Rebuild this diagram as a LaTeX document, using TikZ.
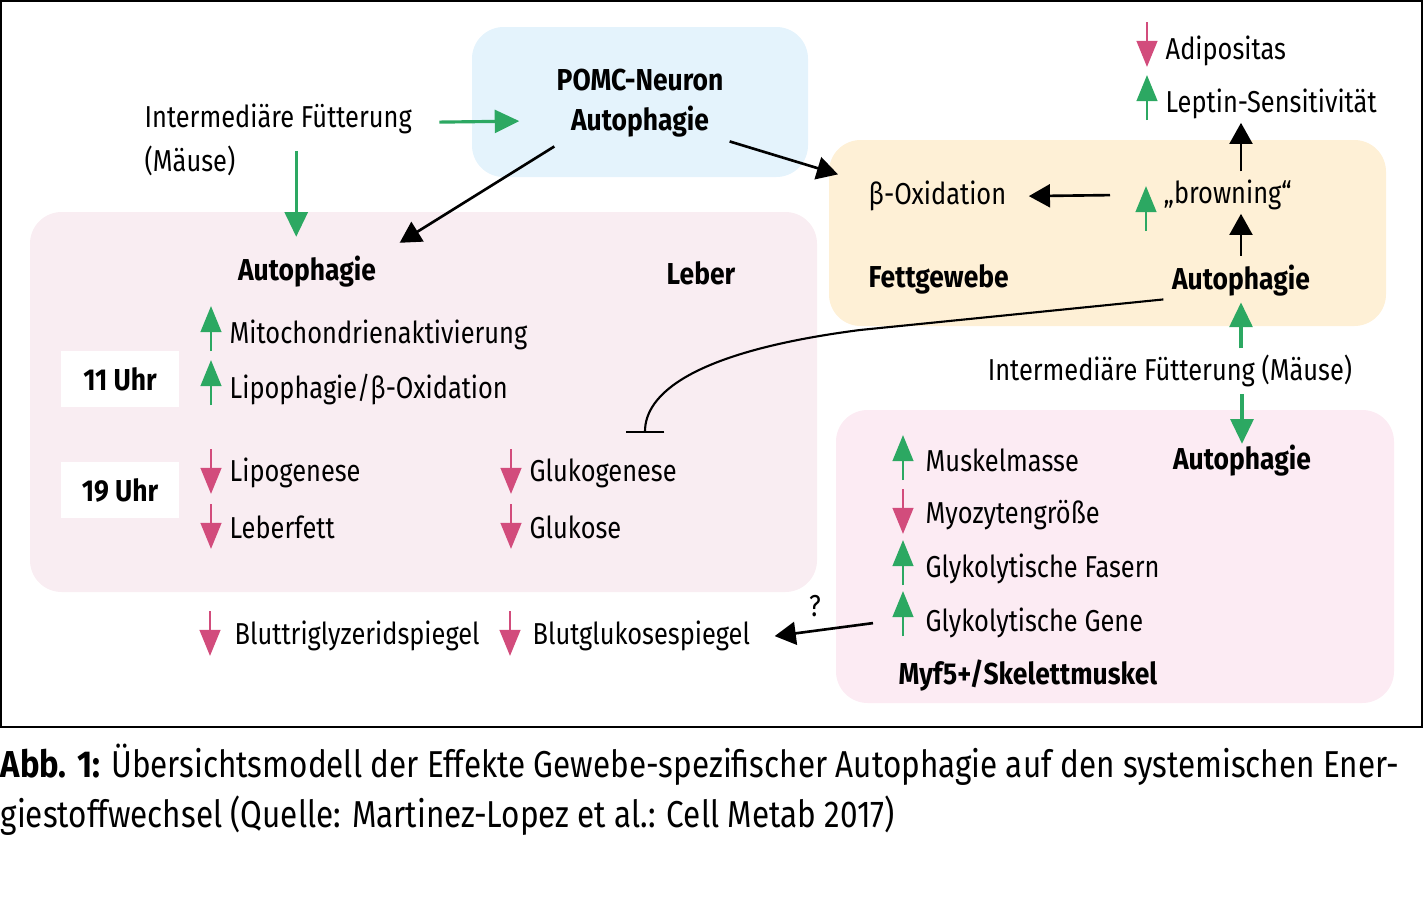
\documentclass[tikz,border=0pt]{standalone}
\usepackage{fontspec}
\setmainfont{Fira Sans}[FakeStretch=0.84, BoldFeatures={FakeStretch=0.875}]
\usetikzlibrary{arrows.meta}

\definecolor{upgreen}{RGB}{44,168,98}
\definecolor{downpink}{RGB}{210,76,124}
\definecolor{pomcblue}{RGB}{228,243,252}
\definecolor{fatyellow}{RGB}{254,240,214}
\definecolor{liverpink}{RGB}{249,237,242}
\definecolor{musclepink}{RGB}{252,235,243}

\newcommand{\lblsize}{\fontsize{8.6}{10}\selectfont}

\tikzset{
  lbl/.style={anchor=west, inner sep=0pt, yshift=-0.6pt, font=\lblsize},
  boldlbl/.style={inner sep=0pt, yshift=-0.6pt, font=\lblsize\bfseries},
  organ/.style={rounded corners=9pt},
  link/.style={-{Triangle[length=6pt,width=6.5pt]}, line width=0.75pt},
  feed/.style={-{Triangle[length=7pt,width=6.5pt]}, upgreen, line width=0.9pt},
  upmark/.style={-{Triangle[length=7.4pt,width=5.8pt]}, upgreen, line width=0.85pt},
  downmark/.style={-{Triangle[length=7.4pt,width=5.8pt]}, downpink, line width=0.85pt},
  timebox/.style={fill=white, inner sep=0pt, minimum width=1.18cm, minimum height=0.56cm, font=\lblsize\bfseries}
}

\begin{document}
\begin{tikzpicture}[x=0.01cm, y=-0.01cm]

 \useasboundingbox (0,0) rectangle (1423,915);
 \draw[line width=0.5pt] (1,1) rectangle (1422,727);

 % organ boxes
 \fill[pomcblue, organ] (472,27) rectangle (808,177);
 \fill[liverpink, organ] (30,212) rectangle (817,592);
 \fill[fatyellow, organ] (829,140) rectangle (1386,326);
 \fill[musclepink, organ] (836,410) rectangle (1394,703);

 % POMC
 \node[boldlbl] (pomc) at (640,78) {POMC-Neuron};
 \node[boldlbl] (pomcauto) at (640,119) {Autophagie};
 \node[lbl] (fuett) at (144,117) {Intermediäre Fütterung};
 \node[lbl] (fuettb) at (144,159) {(Mäuse)};

 % Leber
 \node[boldlbl] (leberauto) at (307,269) {Autophagie};
 \node[boldlbl] (leber) at (701,271) {Leber};
 \node[timebox] (uhr11) at (120,379) {11 Uhr};
 \node[timebox] (uhr19) at (120,490) {19 Uhr};
 \node[lbl] (mito) at (229,333) {Mitochondrienaktivierung};
 \node[lbl] (lipo) at (229,387) {Lipophagie/β-Oxidation};
 \node[lbl] (lipog) at (229,471) {Lipogenese};
 \node[lbl] (leberfett) at (229,525) {Leberfett};
 \node[lbl] (glukog) at (529,471) {Glukogenese};
 \node[lbl] (glukose) at (529,525) {Glukose};
 \node[lbl] (tg) at (234,634) {Bluttriglyzeridspiegel};
 \node[lbl] (bz) at (532,634) {Blutglukosespiegel};

 % Fettgewebe
 \node[lbl] (betaox) at (868,194) {β-Oxidation};
 \node[lbl] (browning) at (1163,193) {„browning“};
 \node[lbl, font=\lblsize\bfseries] (fett) at (868,277) {Fettgewebe};
 \node[boldlbl] (fettauto) at (1241,278) {Autophagie};
 \node[lbl] (adipo) at (1165,49) {Adipositas};
 \node[lbl] (leptin) at (1165,102) {Leptin-Sensitivität};
 \node[inner sep=0pt, yshift=-0.6pt, font=\lblsize] (fuett2) at (1170,369) {Intermediäre Fütterung (Mäuse)};

 % Skelettmuskel
 \node[boldlbl] (muskauto) at (1242,458) {Autophagie};
 \node[lbl] (muskmasse) at (925,458) {Muskelmasse};
 \node[lbl] (myozyt) at (925,513) {Myozytengröße};
 \node[lbl] (glykfas) at (925,567) {Glykolytische Fasern};
 \node[lbl] (glykgen) at (925,621) {Glykolytische Gene};
 \node[boldlbl] (myf5) at (1028,673) {Myf5+/Skelettmuskel};
 \node[inner sep=0pt, font=\lblsize] (qmark) at (815,606) {?};

 % up / down markers
 \foreach \x/\y in {211/351, 211/405, 1146/231, 1147/120, 903/480, 903/585, 903/636}
   \draw[upmark] (\x,\y) -- ++(0,-45);
 \foreach \x/\y in {211/449, 211/504, 511/449, 511/504, 210/611, 510/611, 1147/22, 903/489}
   \draw[downmark] (\x,\y) -- ++(0,45);

 % connectors
 \draw[feed] ([shift={(27,3)}]fuett.east) -- ([shift={(-51,0)}]pomcauto.west);
 \draw[feed] (fuett.south) ++(18,16) coordinate (f1) -- (f1 |- leberauto.north) [shorten >=0.18cm];
 \draw[link] ([shift={(-16,9)}]pomcauto.south west) -- ([shift={(23,-12)}]leberauto.north east);
 \draw[link] ([shift={(20,4)}]pomcauto.south east) -- ([shift={(-30,-6)}]betaox.north west);
 \draw[link] ([shift={(-53,0)}]browning.west) -- ([shift={(22,0)}]betaox.east);
 \draw[link, shorten <=0.08cm, shorten >=0.03cm] (fettauto.north) -- (fettauto.north |- browning.south);
 \draw[link, shorten <=0.08cm, shorten >=0.03cm] (fettauto.north |- browning.north) -- (fettauto.north |- leptin.south);
 \draw[feed, shorten <=0.06cm, shorten >=0.06cm] (fettauto.south |- fuett2.north) -- (fettauto.south);
 \draw[feed, shorten <=0.06cm] (muskauto.north |- fuett2.south) -- (muskauto.north);
 \draw[link] ([shift={(-52,0)}]glykgen.west) -- ([shift={(24,0)}]bz.east);

 % inhibition
 \coordinate (inhib) at (645,433);
 \draw[line width=0.6pt, -{Bar[width=11pt]}] ([shift={(-8,3)}]fettauto.south west) -- (860,330)
   .. controls (690,352) and (645,395) .. (inhib);

 % caption
 \node[anchor=north west, inner sep=0pt, align=left, font=\fontsize{10.65}{14.2}\selectfont] (caption) at (0,743)
   {\textbf{Abb. 1:} Übersichtsmodell der Effekte Gewebe-spezifischer Autophagie auf den systemischen Ener-\\giestoffwechsel (Quelle: Martinez-Lopez et al.: Cell Metab 2017)};

\end{tikzpicture}
\end{document}
